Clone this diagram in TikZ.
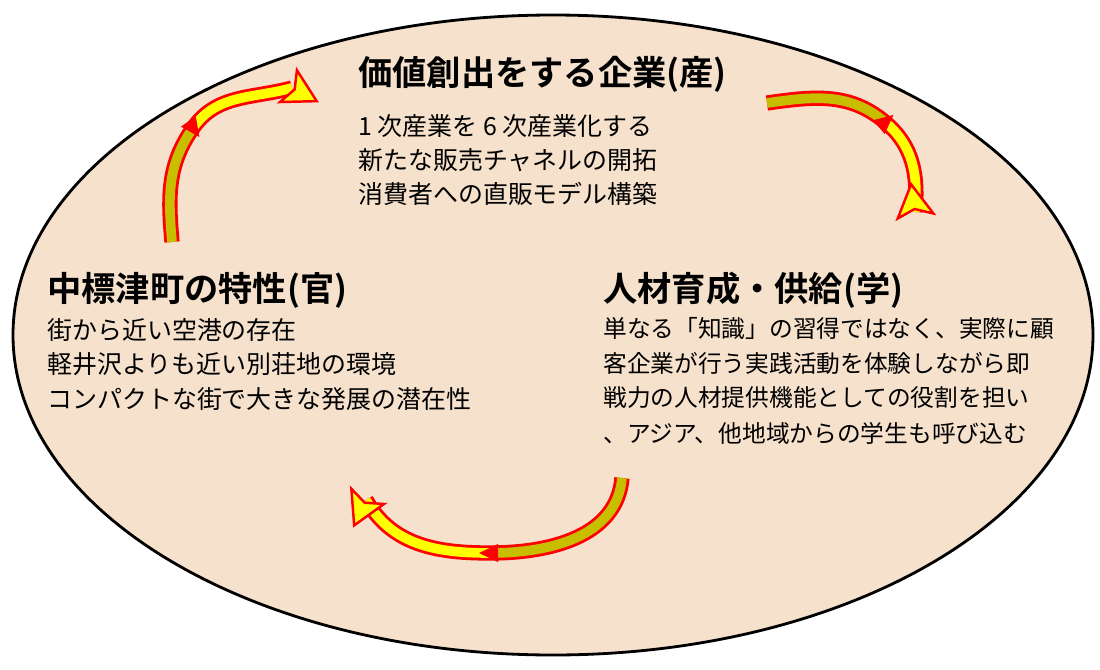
\documentclass[tikz,border=0pt]{standalone}
\usepackage{fontspec}
\newfontfamily\jp{Noto Sans CJK JP}
\newfontfamily\jpb{Noto Sans CJK JP Bold}
\definecolor{bgfill}{HTML}{F5E1CC}
\definecolor{olivefill}{HTML}{C8BE00}
\definecolor{yel}{HTML}{FFFF00}
\begin{document}
\begin{tikzpicture}[x=0.02cm,y=-0.02cm,
  band/.style={draw=red, line width=1.6pt, double distance=5.5pt},
  ttl/.style={anchor=west, font=\jpb\fontsize{19.5}{22}\selectfont, inner sep=0},
  bod/.style={anchor=west, font=\jp\fontsize{14.2}{16}\selectfont, inner sep=0},
  bodr/.style={anchor=west, font=\jp\fontsize{13.5}{15}\selectfont, inner sep=0},
  headp/.style={fill=yel, draw=red, line width=1.4pt, line join=miter}]
\useasboundingbox (0,0) rectangle (1100,670);
\draw[fill=bgfill, line width=1.6pt] (553,335) ellipse [x radius=540, y radius=320];
% arrow A
\draw[band, double=olivefill] (172,242) to[out=95, in=235] (193,128);
\draw[band, double=yel] (193,128) to[out=55, in=195] (292,88);
\begin{scope}[shift={(292,88)}, rotate=-28]
 \draw[headp] (-4,-18) -- (28,0) -- (-4,18) -- (3,0) -- cycle;
\end{scope}
\begin{scope}[shift={(193,128)}, rotate=-55]
 \fill[red] (-8,-9) -- (11,0) -- (-8,9) -- cycle;
\end{scope}
% arrow B
\draw[band, double=olivefill] (767,103) to[out=8, in=140] (885,122);
\draw[band, double=yel] (885,122) to[out=-40, in=85] (915,212);
\begin{scope}[shift={(915,212)}, rotate=98]
 \draw[headp] (-4,-18) -- (28,0) -- (-4,18) -- (3,0) -- cycle;
\end{scope}
\begin{scope}[shift={(885,122)}, rotate=40]
 \fill[red] (-8,-9) -- (11,0) -- (-8,9) -- cycle;
\end{scope}
% arrow C
\draw[band, double=olivefill] (622,478) to[out=-95, in=0] (490,553);
\draw[band, double=yel] (490,553) to[out=180, in=300] (366,500);
\begin{scope}[shift={(366,500)}, rotate=-115]
 \draw[headp] (-4,-18) -- (28,0) -- (-4,18) -- (3,0) -- cycle;
\end{scope}
\begin{scope}[shift={(490,553)}, rotate=180]
 \fill[red] (-8,-9) -- (11,0) -- (-8,9) -- cycle;
\end{scope}
% texts top
\node[ttl] (t1) at (358,74) {価値創出をする企業(産)};
\node[bod] (t1a) at (358,126) {1 次産業を 6 次産業化する};
\node[bod] (t1b) at (358,160) {新たな販売チャネルの開拓};
\node[bod] (t1c) at (358,194) {消費者への直販モデル構築};
% left
\node[ttl] (t2) at (47,290) {中標津町の特性(官)};
\node[bod] (t2a) at (47,330) {街から近い空港の存在};
\node[bod] (t2b) at (47,364) {軽井沢よりも近い別荘地の環境};
\node[bod] (t2c) at (47,399) {コンパクトな街で大きな発展の潜在性};
% right
\node[ttl] (t3) at (603,290) {人材育成・供給(学)};
\node[bodr] (t3a) at (603,328) {単なる「知識」の習得ではなく、実際に顧};
\node[bodr] (t3b) at (603,363) {客企業が行う実践活動を体験しながら即};
\node[bodr] (t3c) at (603,398) {戦力の人材提供機能としての役割を担い};
\node[bodr] (t3d) at (603,433) {、アジア、他地域からの学生も呼び込む};
\end{tikzpicture}
\end{document}
